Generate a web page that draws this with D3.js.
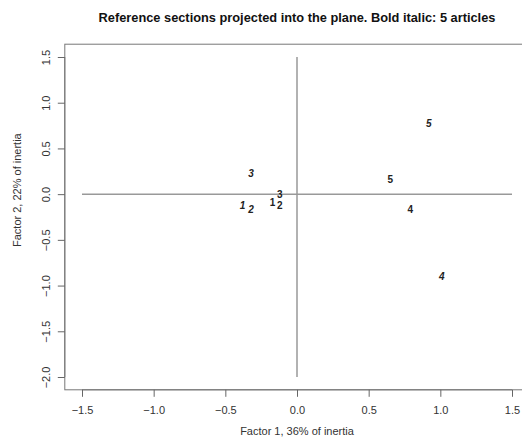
<!DOCTYPE html>
<html>
<head>
<meta charset="utf-8">
<script src="https://cdn.jsdelivr.net/npm/d3@7"></script>
<style>
    body { margin: 0; background: #fff; }
    svg { font-family: "Liberation Sans", Arial, sans-serif; }
</style>
</head>
<body>
<div id="chart"></div>
<script>
"use strict";

// Разделы-ориентиры (обычный шрифт)
const sectionLabels = ["1", "2", "3", "4", "5"];
const sectionX = [-0.17, -0.12, -0.12, 0.79, 0.65];
const sectionY = [-0.09, -0.12, 0.0, -0.17, 0.16];

// Статьи (жирный курсив)
const articleLabels = ["1", "2", "3", "4", "5"];
const articleX = [-0.38, -0.32, -0.32, 1.01, 0.92];
const articleY = [-0.12, -0.17, 0.23, -0.9, 0.77];

const xTicks = [-1.5, -1.0, -0.5, 0.0, 0.5, 1.0, 1.5];
const yTicks = [-2.0, -1.5, -1.0, -0.5, 0.0, 0.5, 1.0, 1.5];

const width = 522, height = 443;
const x = d3.scaleLinear().domain([-1.5, 1.5]).range([82, 512]);
const y = d3.scaleLinear().domain([-2.0, 1.5]).range([377, 57]);

const svg = d3.select("#chart").append("svg")
    .attr("width", width)
    .attr("height", height);

// рамка графика
svg.append("rect")
    .attr("x", x(-1.62))
    .attr("y", y(1.64))
    .attr("width", x(1.62) - x(-1.62))
    .attr("height", y(-2.14) - y(1.64))
    .style("fill", "none")
    .style("stroke", "#777")
    .style("stroke-width", 1);

// оси координат внутри
svg.append("line")
    .attr("x1", x(-1.5)).attr("x2", x(1.5))
    .attr("y1", y(0)).attr("y2", y(0))
    .style("stroke", "#999").style("stroke-width", 1.5);
svg.append("line")
    .attr("x1", x(0)).attr("x2", x(0))
    .attr("y1", y(1.5)).attr("y2", y(-2.0))
    .style("stroke", "#999").style("stroke-width", 1.5);

const fmt = d => d3.format(".1f")(d).replace("-", "\u2212");

// ось X
const xAxis = svg.append("g")
    .attr("transform", `translate(0,${y(-2.14)})`)
    .call(d3.axisBottom(x).tickValues(xTicks).tickSizeOuter(0).tickSize(7).tickPadding(9));
xAxis.select(".domain")
    .attr("d", `M${x(-1.5)},0H${x(1.5)}`)
    .style("stroke", "#777");
xAxis.selectAll(".tick line").style("stroke", "#666");
xAxis.selectAll("text")
    .style("font-size", "11px")
    .style("fill", "#333")
    .style("font-family", "Liberation Sans, Arial, sans-serif")
    .text(fmt);

// ось Y
const yAxis = svg.append("g")
    .attr("transform", `translate(${x(-1.62)},0)`)
    .call(d3.axisLeft(y).tickValues(yTicks).tickSizeOuter(0).tickSize(7).tickPadding(6));
yAxis.select(".domain")
    .attr("d", `M0,${y(-2.0)}V${y(1.5)}`)
    .style("stroke", "#777");
yAxis.selectAll(".tick line").style("stroke", "#666");
yAxis.selectAll("text")
    .attr("x", null).attr("dy", null)
    .attr("transform", "translate(-19,0) rotate(-90)")
    .attr("text-anchor", "middle")
    .attr("dominant-baseline", "central")
    .style("font-size", "11px")
    .style("fill", "#333")
    .style("font-family", "Liberation Sans, Arial, sans-serif")
    .text(fmt);

// заголовок и подписи осей
svg.append("text")
    .attr("x", 297).attr("y", 22)
    .attr("text-anchor", "middle")
    .style("font-size", "12.8px")
    .style("font-weight", "bold")
    .style("fill", "#111")
    .text("Reference sections projected into the plane. Bold italic: 5 articles");

svg.append("text")
    .attr("x", 297).attr("y", 435)
    .attr("text-anchor", "middle")
    .style("font-size", "11px")
    .style("fill", "#333")
    .text("Factor 1, 36% of inertia");

svg.append("text")
    .attr("transform", `translate(17,${y(0) - 4}) rotate(-90)`)
    .attr("text-anchor", "middle")
    .attr("dominant-baseline", "central")
    .style("font-size", "11px")
    .style("fill", "#333")
    .text("Factor 2, 22% of inertia");

// подписи точек
svg.append("g").selectAll("text")
    .data(sectionLabels)
    .join("text")
    .attr("x", (d, i) => x(sectionX[i]))
    .attr("y", (d, i) => y(sectionY[i]))
    .attr("text-anchor", "middle")
    .attr("dominant-baseline", "central")
    .style("font-size", "10px")
    .style("font-weight", "bold")
    .style("fill", "#222")
    .text(d => d);

svg.append("g").selectAll("text")
    .data(articleLabels)
    .join("text")
    .attr("x", (d, i) => x(articleX[i]))
    .attr("y", (d, i) => y(articleY[i]))
    .attr("text-anchor", "middle")
    .attr("dominant-baseline", "central")
    .style("font-size", "10px")
    .style("font-weight", "bold")
    .style("font-style", "italic")
    .style("fill", "#222")
    .text(d => d);
</script>
</body>
</html>
